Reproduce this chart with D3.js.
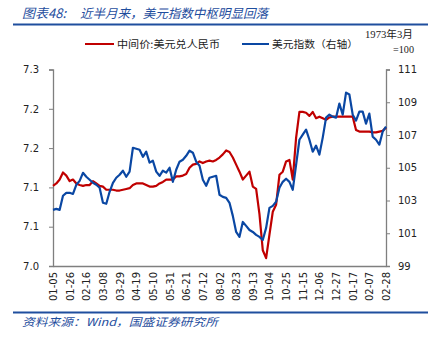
<!DOCTYPE html>
<html><head><meta charset="utf-8">
<script src="https://cdn.jsdelivr.net/npm/d3@7"></script>
<style>
html,body{margin:0;padding:0;background:#fff;}
svg{display:block;}
</style></head>
<body>
<svg id="chart" width="438" height="342"></svg>
<script>
// Sample step: every 3 weekdays from 2024-01-05 to 2025-02-28 (301 weekdays -> 101 samples)
const xTickLabels = ["01-05","01-26","02-16","03-08","03-29","04-19","05-10","05-31","06-21","07-12","08-02","08-23","09-13","10-04","10-25","11-15","12-06","12-27","01-17","02-07","02-28"];
const cnyMid = [7.102,7.105,7.110,7.119,7.115,7.108,7.110,7.105,7.103,7.102,7.103,7.103,7.108,7.105,7.102,7.101,7.097,7.097,7.097,7.096,
7.096,7.097,7.098,7.099,7.103,7.105,7.105,7.105,7.103,7.101,7.101,7.102,7.105,7.107,7.110,7.110,7.110,7.114,7.114,7.115,
7.117,7.125,7.129,7.130,7.133,7.131,7.133,7.134,7.133,7.135,7.138,7.142,7.147,7.145,7.138,7.129,7.120,7.110,7.115,7.120,
7.101,7.098,7.066,7.020,7.010,7.040,7.069,7.078,7.116,7.120,7.133,7.135,7.110,7.163,7.196,7.196,7.195,7.191,7.196,7.188,
7.190,7.188,7.186,7.189,7.190,7.190,7.190,7.190,7.190,7.190,7.190,7.173,7.171,7.171,7.171,7.171,7.170,7.170,7.171,7.172,7.176];
const dxy = [102.43,102.49,102.43,103.29,103.47,103.47,103.40,103.96,104.20,104.69,104.45,104.27,104.08,103.96,103.78,102.86,102.80,103.53,104.08,104.39,
104.57,104.82,104.45,104.76,106.22,106.16,106.10,105.67,105.98,105.31,105.43,104.76,104.51,104.82,104.70,105.00,104.14,104.88,105.37,105.49,
105.73,106.04,105.92,105.37,105.12,104.27,103.90,104.39,104.45,104.51,103.35,103.22,103.16,102.86,102.06,101.08,100.78,101.69,101.45,101.20,
101.08,100.90,100.78,100.59,101.33,102.55,102.67,102.92,103.78,104.14,104.33,104.14,103.65,105.18,106.71,107.02,107.33,106.71,105.98,106.35,
105.80,106.84,108.06,108.24,108.12,108.06,108.92,108.24,109.59,109.47,108.24,107.88,108.43,108.43,107.69,108.31,106.90,106.71,106.41,107.20,107.51];
const leftTicks = [7.0,7.05,7.1,7.15,7.2,7.25];
const leftTickLabels = ["7.0","7.1","7.1","7.2","7.2","7.3"];
const rightTicks = [99,101,103,105,107,109,111];
const seriesNames = ["中间价:美元兑人民币","美元指数（右轴）"];
const stepDays = 3;
const labelEvery = 15;

const svg = d3.select("#chart");
const L = 53, R = 386, T = 69.5, B = 266;
const RED = "#c00000", BLUE = "#0a47a3", HEAD = "#1f4e9e";
const CJK = "'Noto Sans CJK SC',sans-serif";

const x = d3.scaleLinear().domain([0,(xTickLabels.length-1)*labelEvery]).range([L,R]);
const yL = d3.scaleLinear().domain([7.0,7.25]).range([B,T]);
const yR = d3.scaleLinear().domain([99,111]).range([B,T]);

function txt(t,x0,y0,len,size,opts={}){
  const e = svg.append("text").attr("x",x0).attr("y",y0).attr("font-size",size)
    .attr("font-family",opts.family||CJK).attr("fill",opts.fill||"#222").text(t);
  if(opts.italic) e.attr("font-style","italic");
  if(len) e.attr("textLength",len).attr("lengthAdjust","spacingAndGlyphs");
  return e;
}

// header / footer
txt("图表48:",22,17.5,44,13,{fill:HEAD,italic:true});
txt("近半月来，美元指数中枢明显回落",80,17.5,188,12.5,{fill:HEAD,italic:true});
svg.append("line").attr("x1",13).attr("x2",428).attr("y1",24.5).attr("y2",24.5).attr("stroke",HEAD).attr("stroke-width",2);
svg.append("line").attr("x1",13).attr("x2",428).attr("y1",312.5).attr("y2",312.5).attr("stroke",HEAD).attr("stroke-width",2);
txt("资料来源：Wind，国盛证券研究所",22,326,196,11,{fill:HEAD,italic:true});

// unit note
txt("1973年3月",365,38,48,10.5,{family:"'Liberation Serif','Noto Sans CJK SC',serif"});
txt("=100",393,53,21,10.5,{family:"'Liberation Serif',serif"});

// legend
const lg = [{c:RED,x1:85,x2:114,tx:117,len:103,t:seriesNames[0]},{c:BLUE,x1:242,x2:269,tx:272,len:86,t:seriesNames[1]}];
lg.forEach(d=>{
  svg.append("line").attr("x1",d.x1).attr("x2",d.x2).attr("y1",44).attr("y2",44).attr("stroke",d.c).attr("stroke-width",2);
  txt(d.t,d.tx,47.5,d.len,10);
});

// axes
const axisColor = "#7f7f7f";
const gL = svg.append("g").attr("transform",`translate(${L},0)`)
  .call(d3.axisLeft(yL).tickValues(leftTicks).tickFormat((d,i)=>leftTickLabels[i]).tickSize(4).tickPadding(10));
const gR = svg.append("g").attr("transform",`translate(${R},0)`)
  .call(d3.axisRight(yR).tickValues(rightTicks).tickFormat(d3.format("d")).tickSize(4).tickPadding(8));
const gB = svg.append("g").attr("transform",`translate(0,${B})`)
  .call(d3.axisBottom(x).tickValues(d3.range(xTickLabels.length).map(i=>i*labelEvery)).tickFormat((d,i)=>xTickLabels[i]).tickSize(0).tickPadding(0));
[gL,gR,gB].forEach(g=>{
  g.select(".domain").attr("stroke",axisColor).attr("stroke-width",1.3);
  g.selectAll(".tick line").attr("stroke",axisColor);
  g.selectAll("text").attr("font-family","'DejaVu Sans',Verdana,sans-serif").attr("font-size",10).attr("fill","#222");
});
gB.selectAll("text").attr("transform","rotate(-90)").attr("text-anchor","end").attr("x",-6).attr("y",0).attr("dy","0.35em");

// lines
const idx = i=>i*stepDays;
const lineL = d3.line().x((d,i)=>x(idx(i))).y(d=>yL(d));
const lineR = d3.line().x((d,i)=>x(idx(i))).y(d=>yR(d));
svg.append("path").datum(cnyMid).attr("d",lineL).attr("fill","none").attr("stroke",RED).attr("stroke-width",2.2).attr("stroke-linejoin","round");
svg.append("path").datum(dxy).attr("d",lineR).attr("fill","none").attr("stroke",BLUE).attr("stroke-width",2.2).attr("stroke-linejoin","round");
</script>
</body></html>
